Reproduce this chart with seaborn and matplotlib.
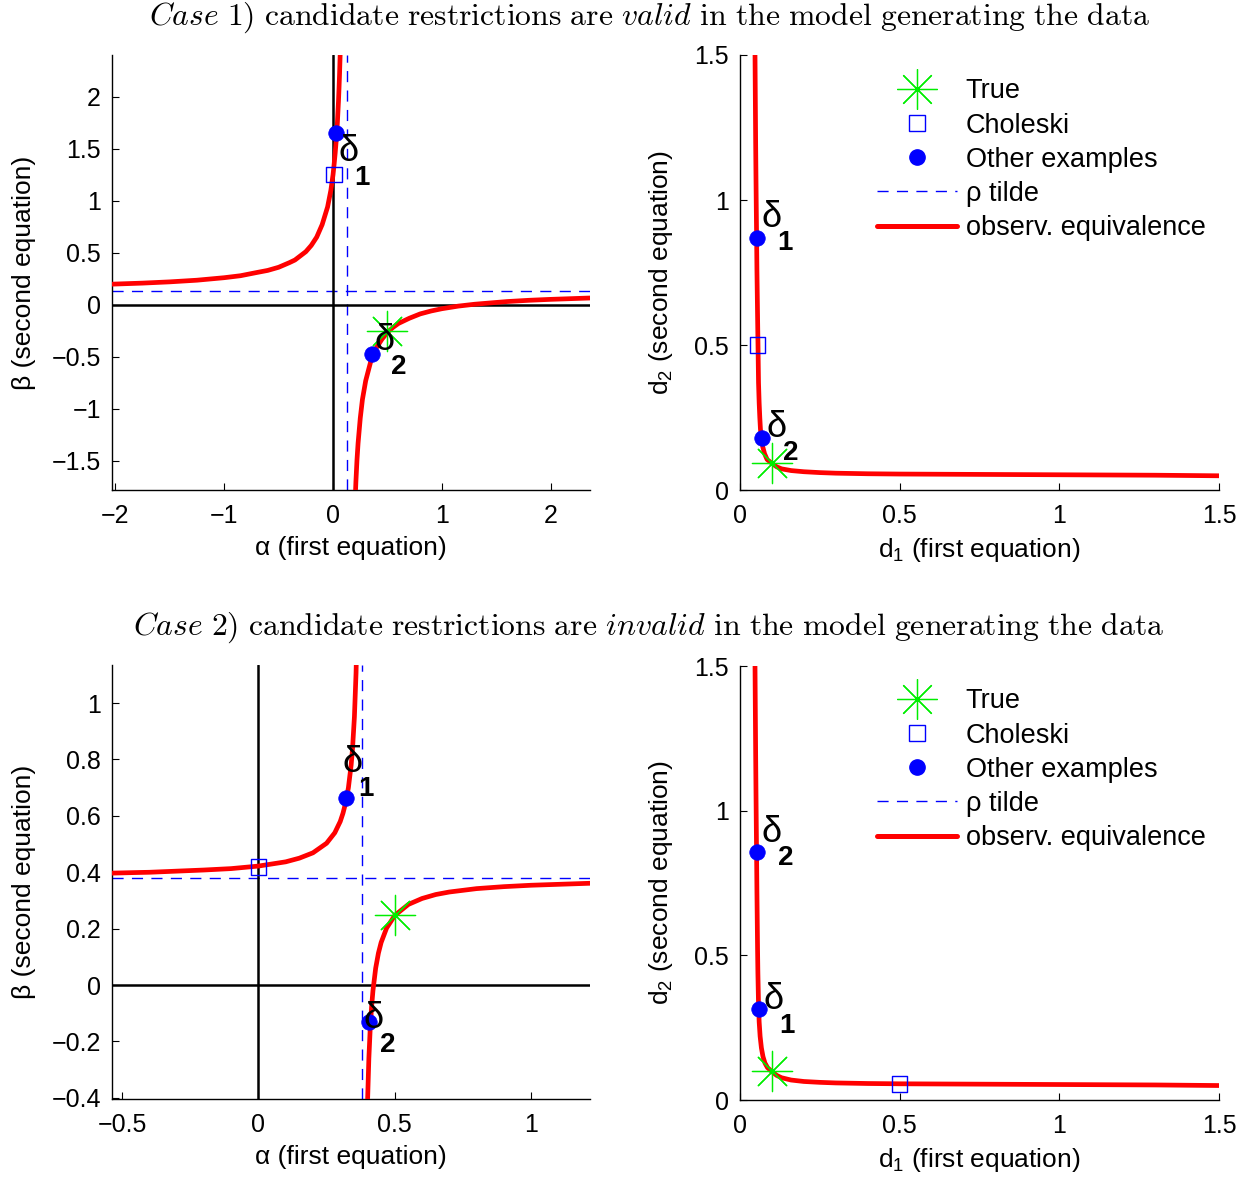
import matplotlib
matplotlib.use("Agg")
import matplotlib.pyplot as plt
from matplotlib.lines import Line2D
from matplotlib.ticker import FuncFormatter, FixedLocator
import seaborn as sns

# ---------------- data ----------------
# Case 1, alpha-beta plane
c1_rho = 0.13
c1_left_alpha = [-2.03, -1.75, -1.5, -1.25, -1.0, -0.85, -0.7, -0.6, -0.5, -0.4, -0.35, -0.3, -0.25,
                 -0.2, -0.15, -0.1, -0.05, -0.02, 0.0, 0.01, 0.02, 0.03, 0.04, 0.05, 0.055, 0.06, 0.07]
c1_left_beta = [0.198, 0.208, 0.22, 0.236, 0.26, 0.279, 0.31, 0.33, 0.36, 0.405, 0.43, 0.47, 0.51,
                0.57, 0.65, 0.77, 0.94, 1.10, 1.25, 1.35, 1.46, 1.59, 1.75, 1.955, 2.08, 2.22, 2.56]
c1_right_alpha = [0.20, 0.21, 0.22, 0.23, 0.25, 0.27, 0.30, 0.35, 0.40, 0.45, 0.50, 0.55, 0.60,
                  0.70, 0.80, 0.90, 1.00, 1.15, 1.30, 1.60, 1.80, 2.00, 2.36]
c1_right_beta = [-1.96, -1.70, -1.49, -1.33, -1.09, -0.91, -0.73, -0.53, -0.41, -0.33, -0.265, -0.218,
                 -0.18, -0.13, -0.088, -0.06, -0.038, -0.013, 0.005, 0.031, 0.043, 0.052, 0.065]
c1_true_ab = (0.50, -0.25)
c1_chol_ab = (0.01, 1.25)
c1_delta1_ab = (0.03, 1.65)
c1_delta2_ab = (0.36, -0.47)

# Case 1, d1-d2 plane
c1_d1 = [0.047, 0.048, 0.049, 0.050, 0.051, 0.052, 0.053, 0.055, 0.057, 0.058, 0.060, 0.062,
         0.064, 0.067, 0.071, 0.077, 0.085, 0.100, 0.115, 0.13, 0.16, 0.20, 0.25, 0.30, 0.40,
         0.50, 0.70, 0.90, 1.10, 1.30, 1.50]
c1_d2 = [1.50, 1.35, 1.20, 1.08, 0.97, 0.87, 0.76, 0.60, 0.45, 0.37, 0.30, 0.25,
         0.21, 0.18, 0.15, 0.125, 0.105, 0.092, 0.080, 0.073, 0.067, 0.063, 0.060, 0.058, 0.056,
         0.055, 0.054, 0.053, 0.052, 0.051, 0.049]
c1_true_d = (0.10, 0.094)
c1_chol_d = (0.055, 0.50)
c1_delta1_d = (0.052, 0.869)
c1_delta2_d = (0.068, 0.179)

# Case 2, alpha-beta plane
c2_rho = 0.38
c2_left_alpha = [-0.537, -0.45, -0.4, -0.3, -0.2, -0.1, 0.0, 0.1, 0.15, 0.2, 0.25, 0.28, 0.3, 0.31,
                 0.32, 0.33, 0.34, 0.345, 0.352, 0.358, 0.362]
c2_left_beta = [0.397, 0.399, 0.40, 0.404, 0.408, 0.413, 0.422, 0.437, 0.45, 0.469, 0.503, 0.54, 0.58,
                0.609, 0.647, 0.70, 0.78, 0.837, 0.951, 1.107, 1.269]
c2_right_alpha = [0.398, 0.40, 0.405, 0.41, 0.415, 0.42, 0.43, 0.44, 0.45, 0.47, 0.50, 0.55,
                  0.60, 0.65, 0.70, 0.80, 0.90, 1.00, 1.216]
c2_right_beta = [-0.51, -0.42, -0.26, -0.153, -0.077, -0.02, 0.06, 0.113, 0.151, 0.202, 0.247, 0.286,
                 0.307, 0.321, 0.33, 0.342, 0.349, 0.354, 0.361]
c2_true_ab = (0.50, 0.25)
c2_chol_ab = (0.0, 0.418)
c2_delta1_ab = (0.32, 0.663)
c2_delta2_ab = (0.405, -0.13)

# Case 2, d1-d2 plane
c2_d1 = [0.047, 0.048, 0.049, 0.050, 0.051, 0.052, 0.053, 0.054, 0.055, 0.056, 0.058, 0.060,
         0.063, 0.067, 0.072, 0.078, 0.086, 0.100, 0.115, 0.13, 0.16, 0.20, 0.25, 0.30, 0.40,
         0.50, 0.70, 0.90, 1.10, 1.30, 1.50]
c2_d2 = [1.50, 1.35, 1.20, 1.07, 0.95, 0.84, 0.72, 0.62, 0.52, 0.44, 0.33, 0.27,
         0.22, 0.18, 0.15, 0.128, 0.112, 0.098, 0.085, 0.077, 0.069, 0.064, 0.061, 0.059, 0.057,
         0.056, 0.055, 0.054, 0.053, 0.052, 0.050]
c2_true_d = (0.10, 0.10)
c2_chol_d = (0.50, 0.056)
c2_delta1_d = (0.059, 0.315)
c2_delta2_d = (0.052, 0.857)

legend_labels = ["True", "Choleski", "Other examples", "\u03c1 tilde", "observ. equivalence"]

# ---------------- style ----------------
sns.set_theme(style="ticks")
plt.rcParams.update({
    "font.family": ["Liberation Sans", "DejaVu Sans"],
    "mathtext.fontset": "custom",
    "mathtext.rm": "Liberation Sans",
    "mathtext.it": "Liberation Sans",
    "mathtext.bf": "Liberation Sans:bold",
    "xtick.direction": "in", "ytick.direction": "in",
    "xtick.major.size": 5, "ytick.major.size": 5,
    "xtick.major.width": 0.8, "ytick.major.width": 0.8,
    "axes.linewidth": 1.0, "axes.edgecolor": "black",
    "xtick.color": "black", "ytick.color": "black",
    "text.color": "black", "axes.labelcolor": "black",
})

RED, BLUE, GREEN = "#ff0000", "#0000ff", "#00ee00"
TICK_FS = 18
LABEL_FS = 19
LEG_FS = 19.5
STAR = (8, 2, 0)
DASH = (8, 6)


def fmt(v, pos):
    s = f"{v:g}"
    if s == "-0":
        s = "0"
    return s.replace("-", "\u2212")


def markers(ax, true_pt, chol_pt, d1, d2):
    sns.scatterplot(x=[chol_pt[0]], y=[chol_pt[1]], marker="s", s=125, facecolor="none",
                    edgecolor=BLUE, linewidth=1.0, ax=ax, zorder=5)
    sns.scatterplot(x=[d1[0], d2[0]], y=[d1[1], d2[1]], marker="o", s=125, color=BLUE,
                    edgecolor=BLUE, linewidth=0.5, ax=ax, zorder=5)
    sns.scatterplot(x=[true_pt[0]], y=[true_pt[1]], marker=STAR, s=840, color=GREEN,
                    linewidth=0.9, ax=ax, zorder=6)


def dlabel(ax, pos, n):
    ax.text(pos[0], pos[1], r"$\delta$", fontsize=26, ha="left", va="center", zorder=7)
    ax.annotate(r"$\mathbf{%d}$" % n, xy=pos, xytext=(11.5, -19), textcoords="offset points",
                fontsize=20, ha="left", va="center", zorder=7)


def style_axes(ax, xlim, ylim, xt, yt, xlabel, ylabel, ylabelpad):
    ax.set_xlim(*xlim)
    ax.set_ylim(*ylim)
    ax.xaxis.set_major_locator(FixedLocator(xt))
    ax.yaxis.set_major_locator(FixedLocator(yt))
    ax.xaxis.set_major_formatter(FuncFormatter(fmt))
    ax.yaxis.set_major_formatter(FuncFormatter(fmt))
    ax.tick_params(axis="x", labelsize=TICK_FS, pad=10)
    ax.tick_params(axis="y", labelsize=TICK_FS, pad=8)
    ax.set_xlabel(xlabel, fontsize=LABEL_FS, labelpad=6)
    ax.set_ylabel(ylabel, fontsize=LABEL_FS, labelpad=ylabelpad)
    sns.despine(ax=ax)


def ab_panel(ax, rho, la, lb, ra, rb, tp, cp, d1, d2, lab1, lab2, xlim, ylim, xt, yt):
    ax.axhline(rho, color=BLUE, lw=1.0, dashes=DASH, zorder=1)
    ax.axvline(rho, color=BLUE, lw=1.0, dashes=DASH, zorder=1)
    ax.axhline(0, color="black", lw=1.8, zorder=2)
    ax.axvline(0, color="black", lw=1.8, zorder=2)
    sns.lineplot(x=la, y=lb, ax=ax, color=RED, lw=3.4, sort=False, estimator=None, zorder=3)
    sns.lineplot(x=ra, y=rb, ax=ax, color=RED, lw=3.4, sort=False, estimator=None, zorder=3)
    markers(ax, tp, cp, d1, d2)
    dlabel(ax, lab1[0], lab1[1])
    dlabel(ax, lab2[0], lab2[1])
    style_axes(ax, xlim, ylim, xt, yt, "\u03b1 (first equation)", "\u03b2 (second equation)", 11)


def d_panel(ax, fig, d1s, d2s, tp, cp, d1, d2, lab1, lab2, leg_top):
    sns.lineplot(x=d1s, y=d2s, ax=ax, color=RED, lw=3.4, sort=False, estimator=None, zorder=3)
    markers(ax, tp, cp, d1, d2)
    dlabel(ax, lab1[0], lab1[1])
    dlabel(ax, lab2[0], lab2[1])
    style_axes(ax, (0, 1.5), (0, 1.5), [0, 0.5, 1, 1.5], [0, 0.5, 1, 1.5],
               r"d$_\mathregular{1}$ (first equation)", r"d$_\mathregular{2}$ (second equation)", 14)
    handles = [
        Line2D([], [], ls="none", marker=STAR, color=GREEN, markersize=29, mew=0.9),
        Line2D([], [], ls="none", marker="s", mfc="none", mec=BLUE, markersize=11, mew=1.0),
        Line2D([], [], ls="none", marker="o", color=BLUE, markersize=11),
        Line2D([], [], color=BLUE, lw=1.0, dashes=DASH),
        Line2D([], [], color=RED, lw=3.6),
    ]
    ax.legend(handles, legend_labels, loc="upper left", bbox_to_anchor=(0.701, leg_top),
              bbox_transform=fig.transFigure, frameon=False, fontsize=LEG_FS, handlelength=2.95,
              handletextpad=0.33, labelspacing=0.3, borderpad=0, borderaxespad=0)


W, H = 1251, 1179
fig = plt.figure(figsize=(W / 100, H / 100), dpi=100)


def box(l, t, r, b):
    return [l / W, 1 - b / H, (r - l) / W, (b - t) / H]


ax1 = fig.add_axes(box(112, 55, 590, 490))
ax2 = fig.add_axes(box(740, 55, 1219, 490))
ax3 = fig.add_axes(box(112, 665, 590, 1099))
ax4 = fig.add_axes(box(740, 666, 1219, 1100))

ab_panel(ax1, c1_rho, c1_left_alpha, c1_left_beta, c1_right_alpha, c1_right_beta,
         c1_true_ab, c1_chol_ab, c1_delta1_ab, c1_delta2_ab,
         ((0.046, 1.47), 1), ((0.38, -0.34), 2),
         (-2.03, 2.36), (-1.78, 2.40), [-2, -1, 0, 1, 2], [-1.5, -1, -0.5, 0, 0.5, 1, 1.5, 2])
ab_panel(ax3, c2_rho, c2_left_alpha, c2_left_beta, c2_right_alpha, c2_right_beta,
         c2_true_ab, c2_chol_ab, c2_delta1_ab, c2_delta2_ab,
         ((0.308, 0.79), 1), ((0.385, -0.12), 2),
         (-0.537, 1.216), (-0.404, 1.135), [-0.5, 0, 0.5, 1], [-0.4, -0.2, 0, 0.2, 0.4, 0.6, 0.8, 1])
d_panel(ax2, fig, c1_d1, c1_d2, c1_true_d, c1_chol_d, c1_delta1_d, c1_delta2_d,
        ((0.066, 0.941), 1), ((0.081, 0.217), 2), 1 - 78.5 / H)
d_panel(ax4, fig, c2_d1, c2_d2, c2_true_d, c2_chol_d, c2_delta1_d, c2_delta2_d,
        ((0.072, 0.346), 1), ((0.066, 0.926), 2), 1 - 688.5 / H)

title1 = (r"$\mathit{Case\ 1}\mathrm{)\ candidate\ restrictions\ are\ }\mathit{valid}"
          r"\mathrm{\ in\ the\ model\ generating\ the\ data}$")
title2 = (r"$\mathit{Case\ 2}\mathrm{)\ candidate\ restrictions\ are\ }\mathit{invalid}"
          r"\mathrm{\ in\ the\ model\ generating\ the\ data}$")
fig.text(650 / W, 1 - 18 / H, title1, ha="center", va="center", fontsize=22.8, math_fontfamily="cm")
fig.text(649 / W, 1 - 628 / H, title2, ha="center", va="center", fontsize=22.8, math_fontfamily="cm")

fig.savefig("out.png", dpi=100)
